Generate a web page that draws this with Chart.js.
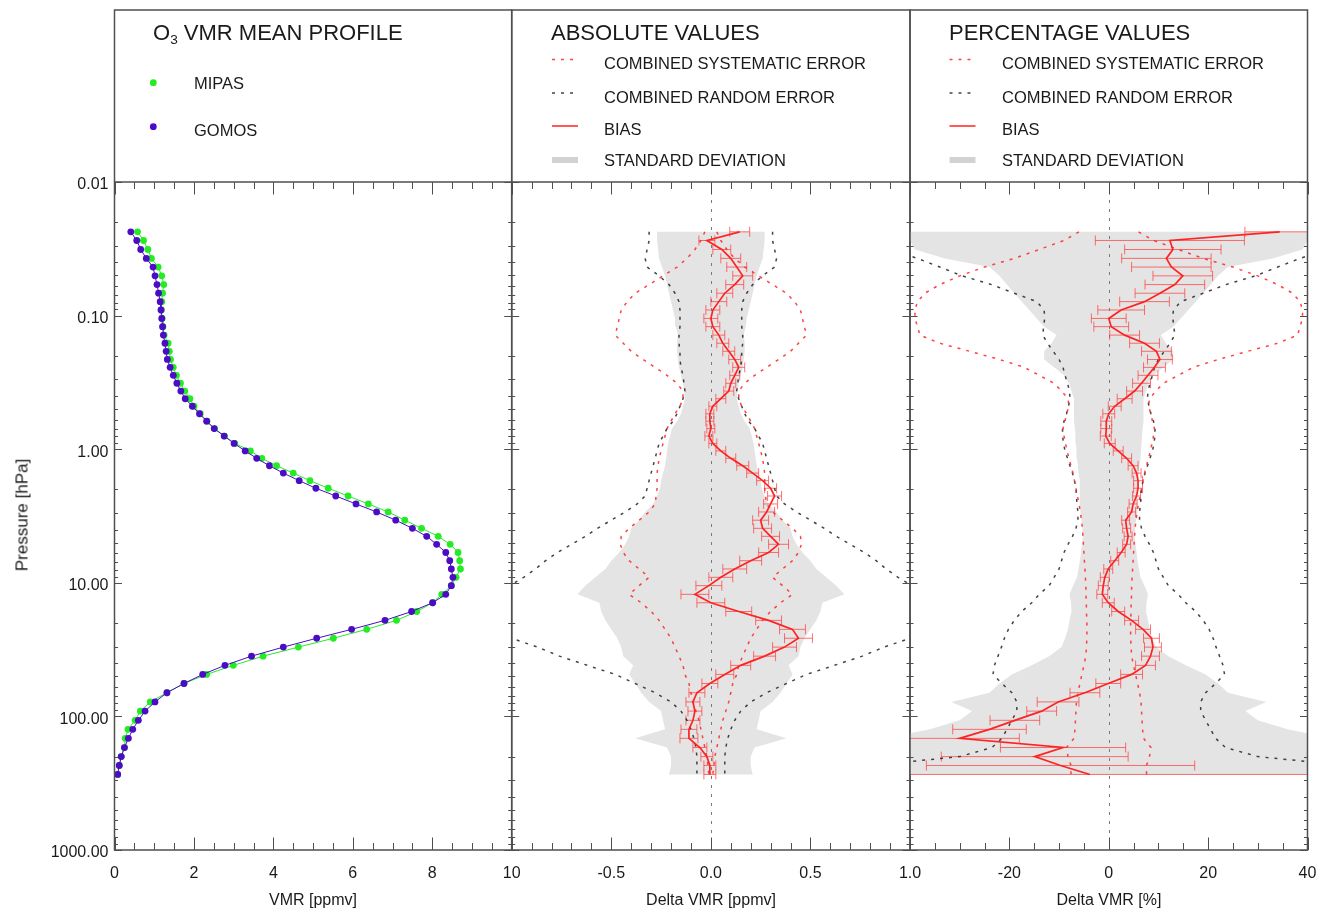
<!DOCTYPE html>
<html lang="en">
<head>
<meta charset="utf-8">
<title>O3 VMR mean profile: MIPAS vs GOMOS</title>
<script src="https://cdn.jsdelivr.net/npm/chart.js@4.4.1/dist/chart.umd.min.js"></script>
<style>
  html, body { margin: 0; background: #fff; }
  #fig { position: relative; width: 1321px; height: 921px; overflow: hidden;
         font-family: "Liberation Sans", Arial, sans-serif; color: #1a1a1a; }
  #fig canvas { position: absolute; left: 0; top: 0; }
  .t { position: absolute; line-height: 1; white-space: nowrap; transform: translateY(-50%); }
  .c { transform: translate(-50%, -50%); }
  .ttl { font-size: 22px; }
  .leg { font-size: 16.5px; }
  .ax { font-size: 16px; }
  .rot { transform: translate(-50%, -50%) rotate(-90deg); font-size: 17px; }
  sub { font-size: 0.62em; vertical-align: -0.3em; line-height: 0; }
</style>
</head>
<body>
<div id="fig">
  <canvas id="profileChart" width="1400" height="921"></canvas>
  <canvas id="absChart" width="1400" height="921"></canvas>
  <canvas id="pctChart" width="1400" height="921"></canvas>

  <div class="t ttl" style="left:153px;top:33px">O<sub>3</sub> VMR MEAN PROFILE</div>
  <div class="t leg" style="left:194px;top:83px">MIPAS</div>
  <div class="t leg" style="left:194px;top:130px">GOMOS</div>

  <div class="t ttl" style="left:551px;top:33px">ABSOLUTE VALUES</div>
  <div class="t leg" style="left:604px;top:62.5px">COMBINED SYSTEMATIC ERROR</div>
  <div class="t leg" style="left:604px;top:96.5px">COMBINED RANDOM ERROR</div>
  <div class="t leg" style="left:604px;top:129px">BIAS</div>
  <div class="t leg" style="left:604px;top:159.5px">STANDARD DEVIATION</div>

  <div class="t ttl" style="left:949px;top:33px">PERCENTAGE VALUES</div>
  <div class="t leg" style="left:1002px;top:62.5px">COMBINED SYSTEMATIC ERROR</div>
  <div class="t leg" style="left:1002px;top:96.5px">COMBINED RANDOM ERROR</div>
  <div class="t leg" style="left:1002px;top:129px">BIAS</div>
  <div class="t leg" style="left:1002px;top:159.5px">STANDARD DEVIATION</div>

  <div class="t ax c" style="left:313px;top:900px">VMR [ppmv]</div>
  <div class="t ax c" style="left:711px;top:900px">Delta VMR [ppmv]</div>
  <div class="t ax c" style="left:1109px;top:900px">Delta VMR [%]</div>
  <div class="t rot" style="left:22px;top:515px">Pressure [hPa]</div>
</div>

<script>
// ---- pressure levels [hPa] of the mean profiles ----
const pressure = [0.0236, 0.0274, 0.0320, 0.0373, 0.0433, 0.0504, 0.0586, 0.0680, 0.0786, 0.0908,
  0.105, 0.121, 0.140, 0.161, 0.185, 0.213, 0.244, 0.280, 0.321, 0.367,
  0.419, 0.477, 0.543, 0.617, 0.701, 0.797, 0.905, 1.03, 1.17, 1.33,
  1.51, 1.72, 1.96, 2.24, 2.57, 2.95, 3.40, 3.91, 4.49, 5.15,
  5.93, 6.83, 7.88, 9.10, 10.5, 12.2, 14.1, 16.4, 19.1, 22.3,
  26.0, 30.3, 35.4, 41.5, 48.5, 56.7, 66.5, 77.9, 91.3, 107,
  125, 146, 171, 200, 233, 272];

// ---- mean O3 VMR [ppmv] ----
const vmrMipas = [0.58, 0.73, 0.84, 0.93, 1.10, 1.19, 1.24, 1.21, 1.19, 1.18,
  1.20, 1.22, 1.25, 1.35, 1.38, 1.41, 1.48, 1.56, 1.66, 1.77,
  1.90, 2.00, 2.16, 2.33, 2.52, 2.77, 3.03, 3.42, 3.71, 4.08,
  4.50, 4.92, 5.38, 5.88, 6.39, 6.89, 7.31, 7.73, 8.15, 8.45,
  8.65, 8.69, 8.71, 8.60, 8.48, 8.24, 8.01, 7.61, 7.10, 6.35,
  5.51, 4.63, 3.74, 2.99, 2.32, 1.75, 1.32, 0.90, 0.65, 0.52,
  0.34, 0.27, 0.25, 0.17, 0.12, 0.08];
const vmrGomos = [0.41, 0.56, 0.66, 0.80, 0.97, 1.02, 1.07, 1.11, 1.15, 1.17,
  1.19, 1.21, 1.23, 1.27, 1.30, 1.33, 1.40, 1.48, 1.57, 1.67,
  1.78, 1.96, 2.14, 2.32, 2.51, 2.76, 3.01, 3.29, 3.58, 3.90,
  4.25, 4.65, 5.07, 5.57, 6.08, 6.60, 7.08, 7.50, 7.86, 8.11,
  8.34, 8.44, 8.48, 8.52, 8.48, 8.34, 8.01, 7.48, 6.81, 5.97,
  5.09, 4.25, 3.45, 2.78, 2.22, 1.75, 1.32, 1.02, 0.77, 0.60,
  0.46, 0.35, 0.25, 0.17, 0.12, 0.08];

// ---- absolute differences [ppmv] ----
const biasAbs = [0.145, -0.02, 0.055, 0.10, 0.13, 0.16, 0.12, 0.07, 0.04, 0.01,
  0.0, 0.01, 0.04, 0.06, 0.09, 0.12, 0.14, 0.12, 0.10, 0.09,
  0.05, 0.01, -0.005, -0.005, 0.0, -0.01, 0.01, 0.05, 0.10, 0.16,
  0.21, 0.26, 0.30, 0.32, 0.30, 0.28, 0.25, 0.26, 0.30, 0.34,
  0.29, 0.20, 0.12, 0.05, -0.01, -0.08, 0.0, 0.14, 0.29, 0.41,
  0.44, 0.37, 0.27, 0.15, 0.07, -0.005, -0.07, -0.09, -0.08, -0.09,
  -0.11, -0.11, -0.055, -0.02, -0.005, -0.005];
const biasAbsErr = [0.05, 0.04, 0.045, 0.05, 0.05, 0.05, 0.045, 0.04, 0.04, 0.035,
  0.035, 0.035, 0.03, 0.03, 0.03, 0.03, 0.03, 0.025, 0.025, 0.025,
  0.025, 0.02, 0.02, 0.02, 0.02, 0.02, 0.02, 0.025, 0.025, 0.03,
  0.03, 0.03, 0.03, 0.035, 0.035, 0.04, 0.04, 0.045, 0.045, 0.05,
  0.05, 0.055, 0.06, 0.06, 0.065, 0.07, 0.07, 0.065, 0.065, 0.065,
  0.07, 0.06, 0.055, 0.05, 0.045, 0.04, 0.04, 0.035, 0.035, 0.035,
  0.04, 0.045, 0.035, 0.03, 0.03, 0.03];
const stdAbs = [0.27, 0.27, 0.265, 0.26, 0.245, 0.23, 0.22, 0.21, 0.20, 0.19,
  0.18, 0.175, 0.165, 0.17, 0.17, 0.165, 0.16, 0.15, 0.14, 0.135,
  0.13, 0.14, 0.15, 0.17, 0.195, 0.205, 0.215, 0.22, 0.225, 0.23,
  0.24, 0.25, 0.255, 0.27, 0.29, 0.33, 0.36, 0.40, 0.41, 0.43,
  0.46, 0.50, 0.53, 0.58, 0.63, 0.67, 0.56, 0.55, 0.53, 0.50,
  0.47, 0.45, 0.44, 0.39, 0.41, 0.38, 0.35, 0.31, 0.25, 0.24,
  0.23, 0.38, 0.22, 0.20, 0.20, 0.21];
const sysAbs = [0.03, 0.05, 0.08, 0.12, 0.17, 0.24, 0.31, 0.38, 0.42, 0.45,
  0.46, 0.47, 0.48, 0.44, 0.40, 0.34, 0.28, 0.22, 0.17, 0.14,
  0.14, 0.155, 0.18, 0.20, 0.22, 0.23, 0.24, 0.25, 0.26, 0.265,
  0.27, 0.27, 0.27, 0.275, 0.28, 0.31, 0.36, 0.41, 0.45, 0.455,
  0.44, 0.41, 0.36, 0.31, 0.36, 0.41, 0.35, 0.30, 0.26, 0.23,
  0.20, 0.18, 0.16, 0.14, 0.13, 0.11, 0.10, 0.09, 0.075, 0.06,
  0.05, 0.04, 0.03, 0.02, 0.015, 0.01];
const rndAbs = [0.31, 0.31, 0.32, 0.33, 0.32, 0.26, 0.21, 0.18, 0.16, 0.155,
  0.155, 0.155, 0.16, 0.16, 0.155, 0.155, 0.15, 0.14, 0.135, 0.13,
  0.14, 0.155, 0.17, 0.19, 0.22, 0.24, 0.26, 0.27, 0.28, 0.29,
  0.30, 0.31, 0.32, 0.33, 0.37, 0.43, 0.50, 0.57, 0.63, 0.70,
  0.77, 0.83, 0.88, 0.94, 1.01, 1.10, 1.20, 1.25, 1.20, 1.10,
  1.00, 0.87, 0.76, 0.62, 0.48, 0.38, 0.28, 0.20, 0.15, 0.12,
  0.10, 0.085, 0.075, 0.07, 0.07, 0.07];

// ---- relative differences [%] ----
const biasPct = [34.4, 12.3, 12.9, 11.6, 12.6, 14.9, 13.3, 10.3, 7.2, 2.5,
  0.0, 0.5, 3.2, 7.2, 9.6, 10.3, 9.2, 7.9, 6.6, 5.2,
  3.2, 1.2, 0.0, -0.5, -0.5, -0.6, 0.2, 1.9, 3.6, 4.9,
  5.6, 5.9, 5.9, 5.6, 4.9, 4.6, 3.4, 3.6, 3.9, 3.6,
  2.5, 1.2, -0.1, -0.8, -1.1, -1.3, -0.1, 1.9, 4.6, 6.9,
  8.6, 8.9, 8.4, 7.4, 4.6, -0.1, -4.8, -10.2, -13.5, -18.9,
  -24.0, -30.0, -9.2, -14.9, -9.7, -3.8];
const biasPctErr = [7, 15, 9.7, 9, 8, 6, 6, 5, 5, 4.7,
  3.5, 3.5, 3, 3, 3, 2.5, 2.2, 2, 1.8, 1.6,
  1.5, 1.3, 1.2, 1.1, 1.1, 1.1, 1.1, 1.0, 1.0, 1.0,
  0.9, 0.9, 0.9, 0.8, 0.8, 0.8, 0.8, 0.8, 0.8, 0.8,
  0.8, 0.8, 0.9, 0.9, 1.0, 1.1, 1.2, 1.3, 1.4, 1.5,
  1.6, 1.7, 1.8, 2.0, 2.2, 2.5, 3.0, 4.2, 3.0, 5.0,
  7.4, 12, 12.6, 18.8, 27, 45];
const stdPct = [42, 40, 39, 33, 24, 22, 20.5, 19, 17.5, 16,
  14.5, 13, 10.5, 11.5, 13, 13, 11, 9, 8, 7.5,
  7, 7, 7, 7, 6.8, 6.7, 6.6, 6.5, 6.4, 6.2,
  6.1, 5.9, 5.8, 5.8, 5.8, 5.7, 5.5, 5.3, 5.2, 5.4,
  5.6, 5.8, 6.1, 6.4, 7.2, 7.9, 7.6, 7.5, 7.9, 8.2,
  8.8, 9.5, 12, 15.5, 19.5, 22, 24, 31.7, 27.5, 30,
  36, 45, 45, 45, 45, 45];
const sysPct = [6, 9, 14, 19, 25, 30, 34, 37, 38.5, 39,
  39, 38.5, 38, 34, 28, 22, 17, 14, 11, 9.5,
  8.2, 8, 8.5, 8.8, 9.2, 9, 8.7, 8.4, 8, 7.6,
  7.2, 6.9, 6.6, 6.3, 6, 5.7, 5.5, 5.3, 5.2, 5.1,
  5, 4.9, 4.8, 4.7, 4.6, 4.6, 4.5, 4.5, 4.4, 4.4,
  4.4, 4.5, 4.6, 5.0, 5.4, 5.8, 6.2, 6.5, 6.6, 6.7,
  6.8, 7.0, 8.5, 8.2, 7.6, 7.6];
const rndPct = [55, 50, 44, 38.5, 34, 29.5, 23.6, 19, 14.5, 13,
  12.9, 13.1, 13.3, 12.3, 11.2, 10, 9.2, 8.8, 8.3, 7.9,
  7.8, 8.1, 8.5, 9, 9.3, 9.3, 9.1, 8.8, 8.3, 7.8,
  7.3, 6.9, 6.6, 6.5, 6.4, 6.2, 6.2, 6.6, 7.3, 8.2,
  9, 9.5, 10, 11, 12, 14, 15.5, 17.5, 19, 20.2,
  21, 21.6, 22.3, 23, 23.3, 21.5, 19.5, 18.5, 18.5, 19.5,
  20.5, 21.5, 23.5, 30, 48, 48];

// ---- axis tick labels ----
const pressureTicks = [0.01, 0.1, 1, 10, 100, 1000];
const vmrTicks = [0, 2, 4, 6, 8, 10];
const absTicks = [-0.5, 0, 0.5, 1];
const pctTicks = [-20, 0, 20, 40];

// ---- styling ----
const GREEN = '#24ec24', BLUE = '#4c0cc6';
const BIAS_COLOR = '#ff2222';
const BAR_COLOR = 'rgba(255,60,60,0.72)';
const SYS_COLOR = 'rgba(255,45,45,0.9)';
const RND_COLOR = 'rgba(35,35,35,0.85)';
const STD_COLOR = '#e4e4e4';
const FRAME = '#4f4f4f';
const W = 1400, H = 921, FIG_TOP = 10, AREA_TOP = 182, AREA_BOTTOM = 850;
const X_AXIS_H = 40, Y_AXIS_W = 100;
const CAP = 5;

Chart.defaults.font.family = '"Liberation Sans", Arial, sans-serif';
Chart.defaults.color = '#1a1a1a';
Chart.defaults.animation = false;

function profile(vals, sign = 1) {
  return pressure.map((p, i) => ({ x: sign * vals[i], y: p }));
}
// closed outline of a +/- band around zero
function band(half) {
  const pts = pressure.map((p, i) => ({ x: half[i], y: p }));
  for (let i = pressure.length - 1; i >= 0; i--) pts.push({ x: -half[i], y: pressure[i] });
  return pts;
}

function hline(ctx, x0, y, x1) { ctx.beginPath(); ctx.moveTo(x0, y); ctx.lineTo(x1, y); ctx.stroke(); }

// frame, inward ticks, zero line, error bars and legend symbols
function decor(cfg) {
  return {
    id: 'decor',
    afterDatasetDraw(chart, args) {
      if (chart.data.datasets[args.index].role !== 'std') return;
      const { ctx, chartArea: a, scales: { x, y } } = chart;
      ctx.save();
      ctx.beginPath(); ctx.rect(a.left, a.top, a.right - a.left, a.bottom - a.top); ctx.clip();
      const x0 = Math.round(x.getPixelForValue(0)) + 0.5;
      ctx.setLineDash([3, 6]); ctx.strokeStyle = '#7a7a7a'; ctx.lineWidth = 1;
      ctx.beginPath(); ctx.moveTo(x0, a.top); ctx.lineTo(x0, a.bottom); ctx.stroke();
      ctx.setLineDash([]);
      const { values, errs } = cfg.bars;
      ctx.strokeStyle = BAR_COLOR; ctx.lineWidth = 1;
      ctx.beginPath();
      pressure.forEach((p, i) => {
        const py = y.getPixelForValue(p);
        const xl = x.getPixelForValue(values[i] - errs[i]);
        const xr = x.getPixelForValue(values[i] + errs[i]);
        ctx.moveTo(xl, py); ctx.lineTo(xr, py);
        ctx.moveTo(xl, py - CAP); ctx.lineTo(xl, py + CAP);
        ctx.moveTo(xr, py - CAP); ctx.lineTo(xr, py + CAP);
      });
      ctx.stroke();
      ctx.restore();
    },
    afterDraw(chart) {
      const { ctx, chartArea: a, scales: { x, y } } = chart;
      ctx.save();
      // ticks
      ctx.strokeStyle = FRAME; ctx.lineWidth = 1;
      ctx.beginPath();
      const n = Math.round((x.max - x.min) / cfg.minor);
      for (let k = 0; k <= n; k++) {
        const v = x.min + k * cfg.minor;
        const px = Math.round(x.getPixelForValue(v)) + 0.5;
        const r = v / cfg.major;
        const L = Math.abs(r - Math.round(r)) < 1e-6 ? 12.5 : 7;
        ctx.moveTo(px, a.bottom); ctx.lineTo(px, a.bottom - L);
        ctx.moveTo(px, a.top); ctx.lineTo(px, a.top + L);
      }
      for (let e = -2; e <= 3; e++) {
        for (let m = 1; m <= 9; m++) {
          const v = m * Math.pow(10, e);
          if (v > 1000) break;
          const py = Math.round(y.getPixelForValue(v)) + 0.5;
          const L = m === 1 ? 7.5 : 3.5;
          ctx.moveTo(a.left, py); ctx.lineTo(a.left + L, py);
          ctx.moveTo(a.right, py); ctx.lineTo(a.right - L, py);
        }
      }
      ctx.stroke();
      // frame of the panel and its legend box
      ctx.lineWidth = 1.5;
      ctx.strokeRect(a.left, FIG_TOP, a.right - a.left, a.bottom - FIG_TOP);
      hline(ctx, a.left, a.top, a.right);
      // legend symbols
      if (cfg.legend === 'profiles') {
        [[GREEN, 82.7], [BLUE, 126.7]].forEach(([c, yy]) => {
          ctx.fillStyle = c; ctx.beginPath(); ctx.arc(153.3, yy, 3.4, 0, Math.PI * 2); ctx.fill();
        });
      } else {
        const x0 = cfg.legendX, x1 = cfg.legendX + 26;
        ctx.lineWidth = 1.5; ctx.setLineDash([3, 6]);
        ctx.strokeStyle = SYS_COLOR; hline(ctx, x0, 59.5, x1);
        ctx.strokeStyle = RND_COLOR; hline(ctx, x0, 93, x1);
        ctx.setLineDash([]);
        ctx.strokeStyle = BIAS_COLOR; hline(ctx, x0, 126, x1);
        ctx.lineWidth = 6; ctx.strokeStyle = '#d2d2d2'; hline(ctx, x0, 160, x1);
      }
      ctx.restore();
    }
  };
}

function xScale(min, max, ticks, fmt) {
  return {
    type: 'linear', min, max,
    grid: { display: false, drawTicks: false }, border: { display: false },
    afterBuildTicks: s => { s.ticks = ticks.map(v => ({ value: v })); },
    afterFit: s => { s.height = X_AXIS_H; },
    ticks: { autoSkip: false, maxRotation: 0, minRotation: 0, padding: 14,
             font: { size: 16 }, color: '#1a1a1a', callback: fmt }
  };
}
function yScale(show) {
  return {
    type: 'logarithmic', reverse: true, min: 0.01, max: 1000, display: show,
    grid: { display: false, drawTicks: false }, border: { display: false },
    afterBuildTicks: s => { s.ticks = pressureTicks.map(v => ({ value: v })); },
    afterFit: s => { s.width = show ? Y_AXIS_W : 0; },
    ticks: { autoSkip: false, padding: 6, labelOffset: 3, font: { size: 16 }, color: '#1a1a1a',
             callback: v => Number(v).toFixed(2) }
  };
}

function panel(id, left, right, xs, show, datasets, cfg) {
  return new Chart(document.getElementById(id), {
    type: 'line',
    data: { datasets },
    options: {
      responsive: false, devicePixelRatio: 1, events: [],
      layout: { padding: { left: show ? left - Y_AXIS_W : left, right: W - right,
                           top: AREA_TOP, bottom: H - AREA_BOTTOM - X_AXIS_H } },
      scales: { x: xs, y: yScale(show) },
      plugins: { legend: { display: false }, tooltip: { enabled: false } },
      elements: { point: { radius: 0, hoverRadius: 0 }, line: { tension: 0 } }
    },
    plugins: [decor(cfg)]
  });
}

function dotted(data, color) {
  return { data, borderColor: color, borderWidth: 1.5, borderDash: [3, 6], pointRadius: 0, fill: false, order: 5 };
}
function errorSets(bias, std, sys, rnd) {
  return [
    { role: 'std', data: band(std), fill: 'shape', backgroundColor: STD_COLOR,
      borderColor: 'rgba(0,0,0,0)', borderWidth: 0, pointRadius: 0, order: 10 },
    dotted(profile(sys), SYS_COLOR), dotted(profile(sys, -1), SYS_COLOR),
    dotted(profile(rnd), RND_COLOR), dotted(profile(rnd, -1), RND_COLOR),
    { data: profile(bias), borderColor: BIAS_COLOR, borderWidth: 1.7, pointRadius: 0, fill: false, order: 0 }
  ];
}

// VMR mean profiles
panel('profileChart', 114.5, 511.7, xScale(0, 10, vmrTicks, v => String(v)), true, [
  { label: 'GOMOS', data: profile(vmrGomos), borderColor: BLUE, backgroundColor: BLUE, borderWidth: 1,
    pointRadius: 3.4, pointBorderWidth: 0, pointBackgroundColor: BLUE, clip: false, order: 0 },
  { label: 'MIPAS', data: profile(vmrMipas), borderColor: GREEN, backgroundColor: GREEN, borderWidth: 1,
    pointRadius: 3.4, pointBorderWidth: 0, pointBackgroundColor: GREEN, clip: false, order: 1 }
], { minor: 0.5, major: 2, legend: 'profiles' });

// absolute differences
panel('absChart', 511.7, 910, xScale(-1, 1, absTicks, v => Number(v).toFixed(1)), false,
  errorSets(biasAbs, stdAbs, sysAbs, rndAbs),
  { minor: 0.1, major: 0.5, legendX: 552, bars: { values: biasAbs, errs: biasAbsErr } });

// relative differences
panel('pctChart', 910, 1307.5, xScale(-40, 40, pctTicks, v => String(v)), false,
  errorSets(biasPct, stdPct, sysPct, rndPct),
  { minor: 5, major: 20, legendX: 949.5, bars: { values: biasPct, errs: biasPctErr } });
</script>
</body>
</html>
